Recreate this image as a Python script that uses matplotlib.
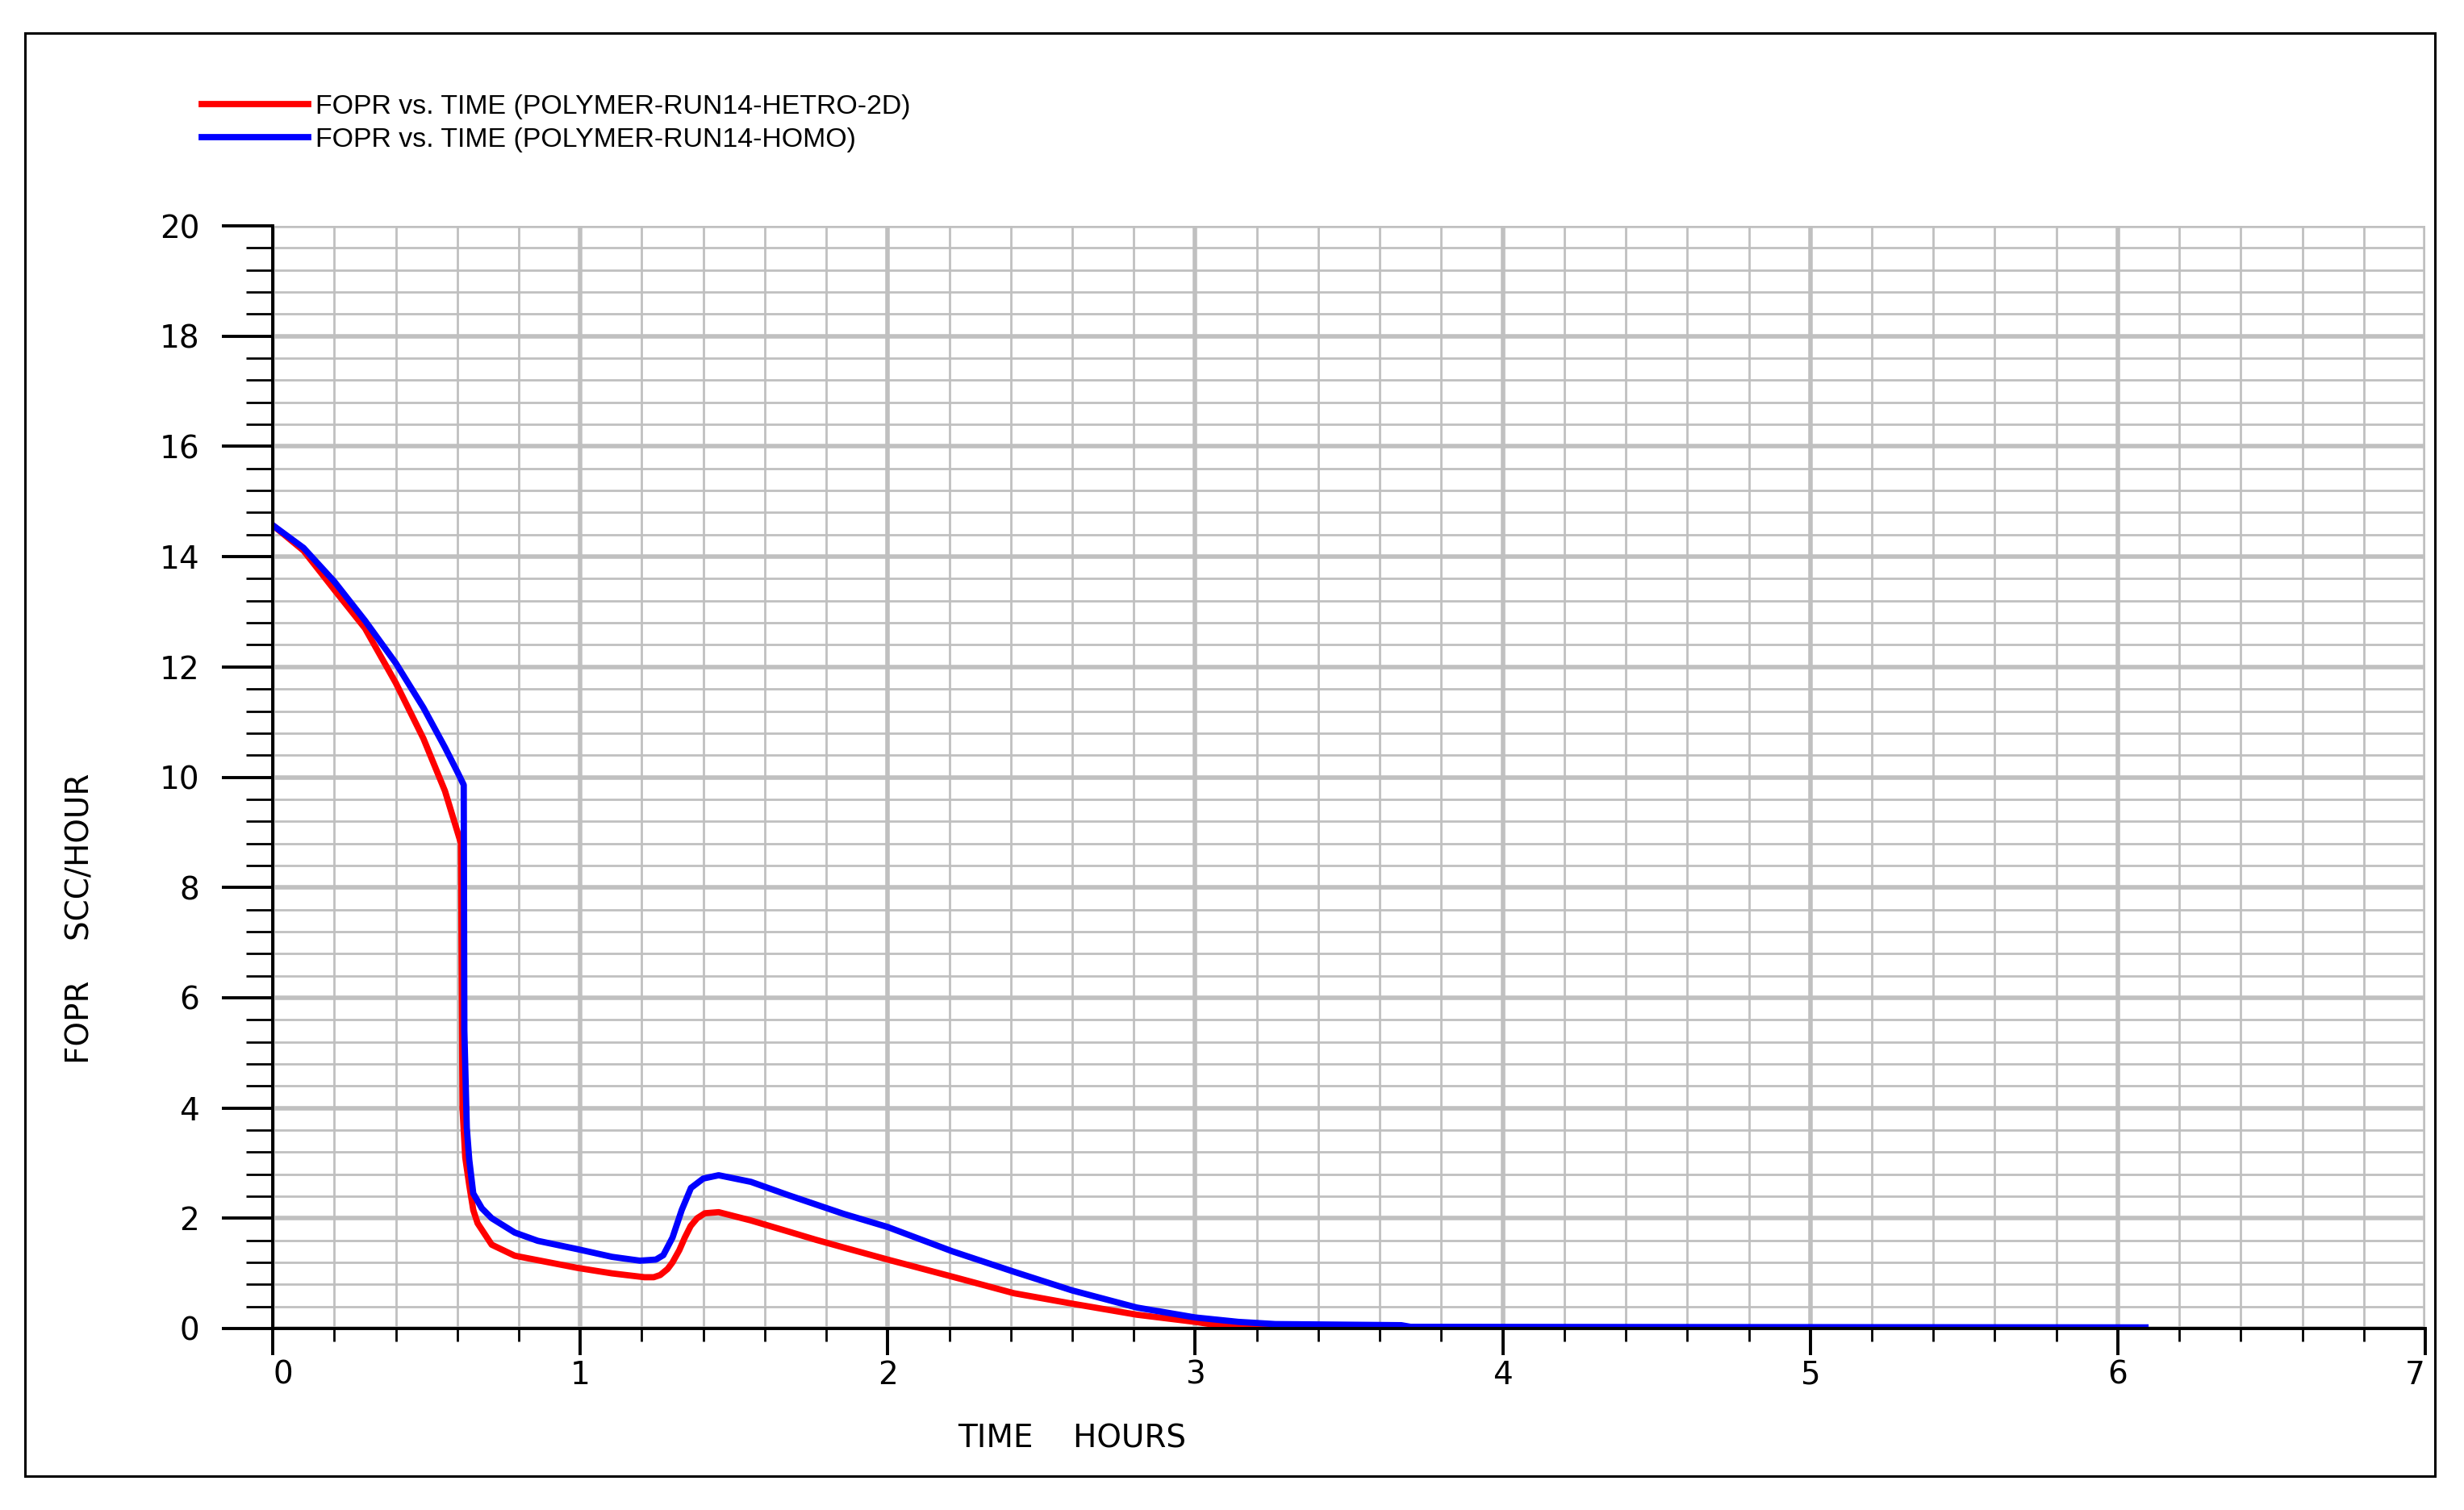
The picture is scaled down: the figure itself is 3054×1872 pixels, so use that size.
import numpy as np
import matplotlib
matplotlib.use("Agg")
import matplotlib.pyplot as plt
from matplotlib.patches import Rectangle

# FOPR (SCC/HOUR) vs TIME (HOURS)
t_hetro = [0, 0.1, 0.2, 0.3, 0.4, 0.49, 0.56, 0.612, 0.617, 0.626, 0.639, 0.652,
           0.666, 0.712, 0.787, 0.99, 1.103, 1.209, 1.239, 1.26, 1.284, 1.30,
           1.322, 1.34, 1.359, 1.38, 1.405, 1.45, 1.555, 1.676, 1.766, 1.856,
           2.0, 2.21, 2.41, 2.6, 2.81, 3.0, 3.11, 3.24]
fopr_hetro = [14.57, 14.11, 13.4, 12.7, 11.71, 10.7, 9.75, 8.8, 4.0, 3.1, 2.6, 2.15,
              1.91, 1.52, 1.32, 1.10, 1.0, 0.93, 0.93, 0.97, 1.08, 1.2,
              1.42, 1.65, 1.86, 2.0, 2.09, 2.11, 1.96, 1.76, 1.61, 1.47,
              1.25, 0.94, 0.64, 0.45, 0.25, 0.12, 0.03, 0.02]

t_homo = [0, 0.1, 0.2, 0.3, 0.4, 0.49, 0.56, 0.6, 0.621, 0.623, 0.631, 0.639,
          0.652, 0.68, 0.712, 0.787, 0.862, 0.99, 1.103, 1.194, 1.246, 1.27,
          1.30, 1.33, 1.36, 1.40, 1.45, 1.555, 1.676, 1.766, 1.856, 2.0, 2.21,
          2.41, 2.6, 2.81, 3.0, 3.14, 3.26, 3.67, 3.7, 6.09]
fopr_homo = [14.57, 14.16, 13.55, 12.84, 12.07, 11.26, 10.54, 10.1, 9.86, 5.4, 3.64, 3.06,
             2.45, 2.18, 2.0, 1.74, 1.59, 1.44, 1.30, 1.23, 1.25, 1.33,
             1.65, 2.15, 2.55, 2.72, 2.78, 2.66, 2.42, 2.25, 2.08, 1.84, 1.40,
             1.03, 0.69, 0.38, 0.2, 0.12, 0.08, 0.06, 0.03, 0.02]

labels = ['FOPR vs. TIME (POLYMER-RUN14-HETRO-2D)', 'FOPR vs. TIME (POLYMER-RUN14-HOMO)']
xticks = [0, 1, 2, 3, 4, 5, 6, 7]
yticks = [0, 2, 4, 6, 8, 10, 12, 14, 16, 18, 20]

fig = plt.figure(figsize=(15.27, 9.36), dpi=200)
ax = fig.add_axes([0.1107, 0.1202, 0.8736, 0.7302])

ax.plot(t_hetro, fopr_hetro, color='#ff0000', lw=2.8, label=labels[0], zorder=3)
ax.plot(t_homo, fopr_homo, color='#0000ff', lw=2.8, label=labels[1], zorder=4)

ax.set_xlim(0, 7)
ax.set_ylim(0, 20)
ax.set_xticks(xticks)
ax.set_xticklabels([str(v) for v in xticks])
ax.set_yticks(yticks)
ax.set_yticklabels([str(v) for v in yticks])
ax.set_xticks(np.arange(0, 7.01, 0.2), minor=True)
ax.set_yticks(np.arange(0, 20.01, 0.4), minor=True)

ax.grid(which='major', color='#c0c0c0', lw=2.0, zorder=0)
ax.grid(which='minor', color='#c0c0c0', lw=1.0, zorder=0)
ax.set_axisbelow(True)

for s in ['top', 'right']:
    ax.spines[s].set_visible(False)
for s in ['left', 'bottom']:
    ax.spines[s].set_linewidth(1.4)
    ax.spines[s].set_zorder(5)

ax.tick_params(axis='y', which='major', length=22.7, width=1.4, pad=10, labelsize=14)
ax.tick_params(axis='y', which='minor', length=11.9, width=1.0)
ax.tick_params(axis='x', which='major', length=11.9, width=1.4, pad=2, labelsize=14)
ax.tick_params(axis='x', which='minor', length=5.8, width=1.0)
for lab in ax.get_xticklabels() + ax.get_yticklabels():
    lab.set_fontfamily('DejaVu Sans')
xl = ax.get_xticklabels()
xl[0].set_horizontalalignment('left')
xl[-1].set_horizontalalignment('right')

fig.text(0.0327, 0.3916, 'FOPR    SCC/HOUR', rotation=90, ha='center', va='center',
         fontsize=14, family='DejaVu Sans')
fig.text(0.4352, 0.0475, 'TIME    HOURS', ha='center', va='center',
         fontsize=14, family='DejaVu Sans')

fig.legend(loc='upper left', bbox_to_anchor=(0.0819, 0.9377), frameon=False,
           prop={'family': 'Liberation Sans', 'size': 12.2}, handlelength=3.9,
           handletextpad=0.27, labelspacing=0.3, borderpad=0, borderaxespad=0)

fig.add_artist(Rectangle((31 / 3054, 1 - 1830 / 1872), (3018 - 31) / 3054,
                         (1830 - 41) / 1872, transform=fig.transFigure,
                         fill=False, lw=1.1, edgecolor='black'))

fig.savefig('out.png', dpi=200, facecolor='white')
